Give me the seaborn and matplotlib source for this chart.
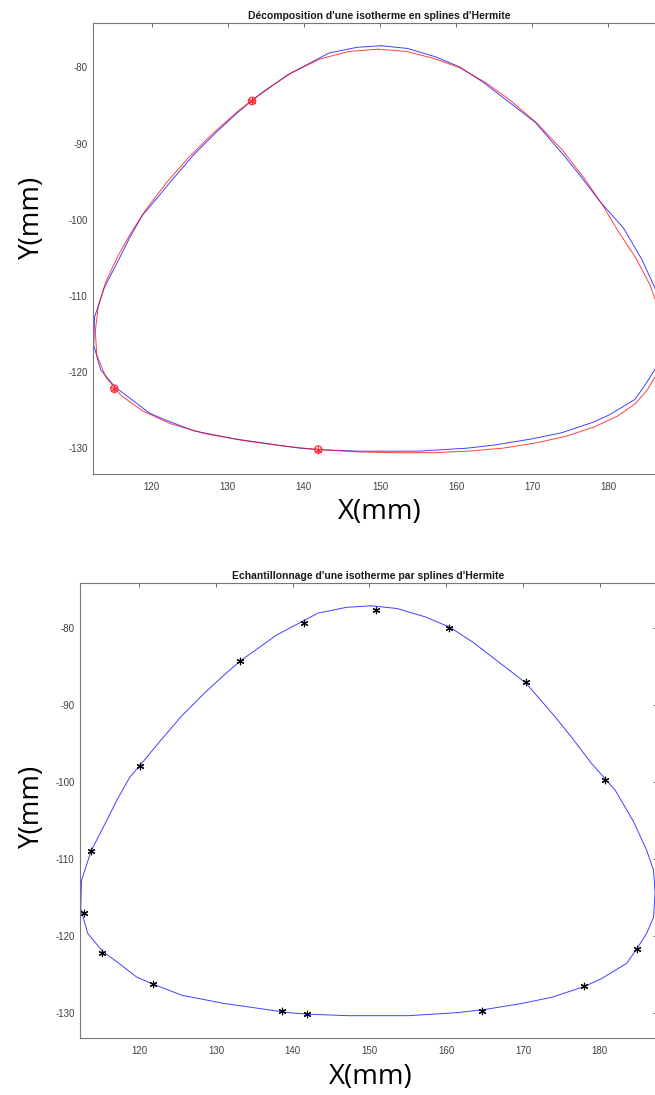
import matplotlib
matplotlib.use("Agg")
import matplotlib.pyplot as plt
import seaborn as sns
import pandas as pd

# ---- data (in mm) ----
iso_x = [150.2, 153.6, 157.3, 160.5, 163.5, 166.5, 170.4, 174.2, 176.3, 178.9,
         182.0, 184.4, 186.1, 187.0, 187.2, 187.0, 186.1, 184.9, 183.5, 180.2,
         178.0, 173.8, 169.9, 165.0, 161.5, 155.1, 147.2, 141.9, 139.4, 131.0,
         125.6, 121.8, 119.7, 117.1, 115.2, 113.3, 112.4, 112.5, 113.75, 115.8,
         117.1, 118.8, 120.1, 122.5, 125.5, 128.5, 131.0, 133.2, 137.9, 143.3,
         147.0, 150.2]
iso_y = [-77.15, -77.5, -78.6, -79.95, -81.9, -84.2, -87.2, -91.6, -94.2, -97.6,
         -101.1, -105.2, -108.9, -111.5, -114.5, -117.6, -119.7, -121.6, -123.6, -125.6,
         -126.6, -128.0, -128.8, -129.6, -130.0, -130.4, -130.4, -130.2, -130.0, -128.8,
         -127.75, -126.3, -125.4, -123.4, -122.0, -119.7, -116.5, -112.8, -109.0, -105.0,
         -102.4, -99.4, -97.9, -95.0, -91.5, -88.5, -86.2, -84.3, -80.95, -78.1,
         -77.35, -77.15]

spline_x = [149.8, 153.5, 157.2, 160.4, 163.9, 167.1, 170.6, 174.0, 176.8, 179.2,
            181.3, 183.6, 185.5, 186.7, 187.3, 187.0, 186.3, 185.1, 183.5, 181.2,
            178.2, 174.6, 170.6, 166.2, 161.6, 156.8, 152.0, 147.2, 142.0, 137.0,
            132.0, 127.0, 122.5, 118.8, 116.0, 114.0, 112.8, 112.6, 113.0, 114.0,
            115.5, 117.3, 119.3, 121.9, 124.8, 128.0, 131.4, 134.9, 138.4, 142.1,
            145.9, 149.8]
spline_y = [-77.6, -77.9, -78.85, -80.0, -82.0, -84.3, -87.3, -90.9, -94.5, -98.0,
            -101.5, -105.0, -108.6, -112.0, -115.2, -118.0, -120.4, -122.4, -124.2, -125.8,
            -127.2, -128.4, -129.3, -130.0, -130.4, -130.6, -130.6, -130.5, -130.2, -129.7,
            -129.0, -128.1, -126.8, -125.1, -123.1, -120.7, -117.8, -114.6, -111.4, -108.1,
            -104.9, -101.7, -98.6, -95.2, -91.9, -88.7, -85.7, -83.0, -80.7, -78.9,
            -77.9, -77.6]

knot_x = [133.2, 115.1, 141.9]
knot_y = [-84.4, -122.2, -130.2]

sample_x = [113.75, 112.8, 115.2, 121.8, 138.6, 141.9, 164.6, 178.0, 184.8,
            180.7, 170.4, 160.3, 150.9, 141.5, 133.15, 120.1]
sample_y = [-109.0, -117.0, -122.2, -126.3, -129.8, -130.2, -129.8, -126.6, -121.7,
            -99.8, -87.1, -80.0, -77.7, -79.35, -84.3, -97.9]

xticks = [120, 130, 140, 150, 160, 170, 180]
yticks = [-130, -120, -110, -100, -90, -80]
title_top = "Décomposition d'une isotherme en splines d'Hermite"
title_bot = "Echantillonnage d'une isotherme par splines d'Hermite"

# ---- style ----
sns.set_theme(style="white")
plt.rcParams["font.family"] = ["Liberation Sans", "DejaVu Sans"]
plt.rcParams["axes.unicode_minus"] = False

iso = pd.DataFrame({"x": iso_x, "y": iso_y})
spl = pd.DataFrame({"x": spline_x, "y": spline_y})
knots = pd.DataFrame({"x": knot_x, "y": knot_y})
samples = pd.DataFrame({"x": sample_x, "y": sample_y})

W, H = 655, 1095
fig = plt.figure(figsize=(W / 100, H / 100), dpi=100)
ax1 = fig.add_axes([93 / W, 1 - 474 / H, (665 - 93) / W, (474 - 23.3) / H])
ax2 = fig.add_axes([80 / W, 1 - 1038 / H, (657 - 80) / W, (1038 - 582.7) / H])

asterisk = (6, 2, 0)

# top panel
sns.lineplot(data=iso, x="x", y="y", sort=False, estimator=None, color="#0000ff",
             lw=0.7, alpha=0.75, ax=ax1)
sns.lineplot(data=spl, x="x", y="y", sort=False, estimator=None, color="#ff0000",
             lw=0.7, alpha=0.75, ax=ax1)
sns.scatterplot(data=knots, x="x", y="y", marker="o", s=28, facecolor="none",
                edgecolor="#ff3030", linewidth=0.9, ax=ax1, zorder=5)
sns.scatterplot(data=knots, x="x", y="y", marker=asterisk, s=22, color="#ff3030",
                edgecolor="#ff3030", linewidth=0.8, ax=ax1, zorder=5)

# bottom panel
sns.lineplot(data=iso, x="x", y="y", sort=False, estimator=None, color="#0000ff",
             lw=0.7, alpha=0.75, ax=ax2)
sns.scatterplot(data=samples, x="x", y="y", marker=asterisk, s=22, color="black",
                edgecolor="black", linewidth=0.85, ax=ax2, zorder=5)

for ax, title, ylim in ((ax1, title_top, (-133.4, -74.2)), (ax2, title_bot, (-133.3, -74.15))):
    ax.set_xlim(112.3, 187.45)
    ax.set_ylim(*ylim)
    ax.set_xticks(xticks)
    ax.set_yticks(yticks)
    ax.set_xticklabels([str(t) for t in xticks])
    ax.set_yticklabels([str(t) for t in yticks])
    ax.tick_params(direction="in", top=True, right=True, length=3, width=0.6,
                   color="#555555", labelsize=7, labelcolor="#404040", pad=4)
    ax.tick_params(axis="x", pad=6)
    for s in ax.spines.values():
        s.set_visible(True)
        s.set_color("#777777")
        s.set_linewidth(0.8)
    ax.set_xlabel("")
    ax.set_ylabel("")
    ax.set_title(title, fontsize=7.5, fontweight="bold", color="#1a1a1a", pad=3)

lab_font = ["Open Sans", "DejaVu Sans"]
fig.text(380 / W, 1 - 512 / H, "X(mm)", family=lab_font, fontsize=20,
         ha="center", va="center", color="black")
fig.text(371 / W, 1 - 1077 / H, "X(mm)", family=lab_font, fontsize=20,
         ha="center", va="center", color="black")
fig.text(32 / W, 1 - 217 / H, "Y(mm)", family=lab_font, fontsize=20,
         ha="center", va="center", rotation=90, color="black")
fig.text(32 / W, 1 - 806 / H, "Y(mm)", family=lab_font, fontsize=20,
         ha="center", va="center", rotation=90, color="black")

fig.savefig("out.png", dpi=100)
